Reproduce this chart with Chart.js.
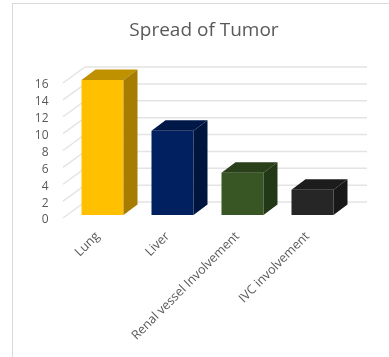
<!DOCTYPE html>
<html>
<head>
<meta charset="utf-8">
<script src="https://cdn.jsdelivr.net/npm/chart.js@4"></script>
<style>
  html, body { margin: 0; padding: 0; background: #fff; }
  #wrap { position: relative; width: 389px; height: 357px; overflow: hidden; }
  #frame { position: absolute; left: 12px; top: 3px; width: 400px; height: 400px; border: 1px solid #d9d9d9; box-sizing: border-box; }
  #chart { position: absolute; left: 0; top: 0; }
</style>
</head>
<body>
<div id="wrap">
  <div id="frame"></div>
  <canvas id="chart" width="389" height="357"></canvas>
</div>
<script>
const categories = ['Lung', 'Liver', 'Renal vessel Involvement', 'IVC involvement'];
const values = [16, 10, 5, 3];
const frontColors = ['#ffc000', '#002060', '#375623', '#262626'];
const topColors = ['#bf9000', '#001848', '#29401a', '#1c1c1c'];
const sideColors = ['#a67d00', '#00153e', '#233817', '#181818'];

// how far the floor and back wall sit behind the bars' front faces
const depthX = 14;
const depthY = 10.5;

const wallGrid = {
  id: 'wallGrid',
  beforeDatasetsDraw(chart) {
    const { ctx, scales: { y } } = chart;
    ctx.save();
    ctx.strokeStyle = '#e4e4e4';
    ctx.lineWidth = 1.5;
    y.ticks.forEach(t => {
      const py = y.getPixelForValue(t.value) + 3;
      ctx.beginPath();
      ctx.moveTo(63, py);
      ctx.lineTo(85, py - 16);
      ctx.lineTo(367, py - 16);
      ctx.stroke();
    });
    ctx.restore();
  }
};

// side and top faces of each column, taken from the bar element
const barFaces = {
  id: 'barFaces',
  afterDatasetsDraw(chart) {
    const { ctx } = chart;
    chart.getDatasetMeta(0).data.forEach((bar, i) => {
      const half = bar.width / 2;
      const l = bar.x - half, r = bar.x + half, top = bar.y, base = bar.base;
      ctx.fillStyle = topColors[i];
      ctx.beginPath();
      ctx.moveTo(l, top);
      ctx.lineTo(l + depthX, top - depthY);
      ctx.lineTo(r + depthX, top - depthY);
      ctx.lineTo(r, top);
      ctx.closePath();
      ctx.fill();
      ctx.fillStyle = sideColors[i];
      ctx.beginPath();
      ctx.moveTo(r, top);
      ctx.lineTo(r + depthX, top - depthY);
      ctx.lineTo(r + depthX, base - depthY);
      ctx.lineTo(r, base);
      ctx.closePath();
      ctx.fill();
    });
  }
};

// widen the title box so the text centres over plot and back wall together
const titleShift = {
  id: 'titleShift',
  afterLayout(chart) {
    chart.titleBlock.right += 60.5;
  }
};

new Chart(document.getElementById('chart'), {
  type: 'bar',
  data: {
    labels: categories,
    datasets: [{ data: values, backgroundColor: frontColors, barPercentage: 0.6, categoryPercentage: 1 }]
  },
  plugins: [wallGrid, barFaces, titleShift],
  options: {
    responsive: false,
    animation: false,
    layout: { padding: { left: 0, right: 41.5, top: 0, bottom: 0 } },
    plugins: {
      legend: { display: false },
      tooltip: { enabled: false },
      title: {
        display: true,
        text: 'Spread of Tumor',
        color: '#595959',
        font: { family: 'Open Sans', size: 19, weight: 'normal' },
        padding: { top: 19.6, bottom: 37.6 }
      }
    },
    scales: {
      x: {
        grid: { display: false },
        border: { display: false },
        ticks: {
          color: '#595959',
          font: { family: 'Open Sans', size: 12.5 },
          maxRotation: 45,
          minRotation: 45,
          padding: 6,
          labelOffset: -5
        },
        afterFit(scale) { scale.height = 142; }
      },
      y: {
        min: 0,
        max: 16,
        grid: { display: false },
        border: { display: false },
        ticks: {
          stepSize: 2,
          autoSkip: false,
          color: '#595959',
          font: { family: 'Open Sans', size: 12 },
          labelOffset: 5,
          padding: 11
        },
        afterFit(scale) { scale.width = 67.5; }
      }
    }
  }
});
</script>
</body>
</html>
